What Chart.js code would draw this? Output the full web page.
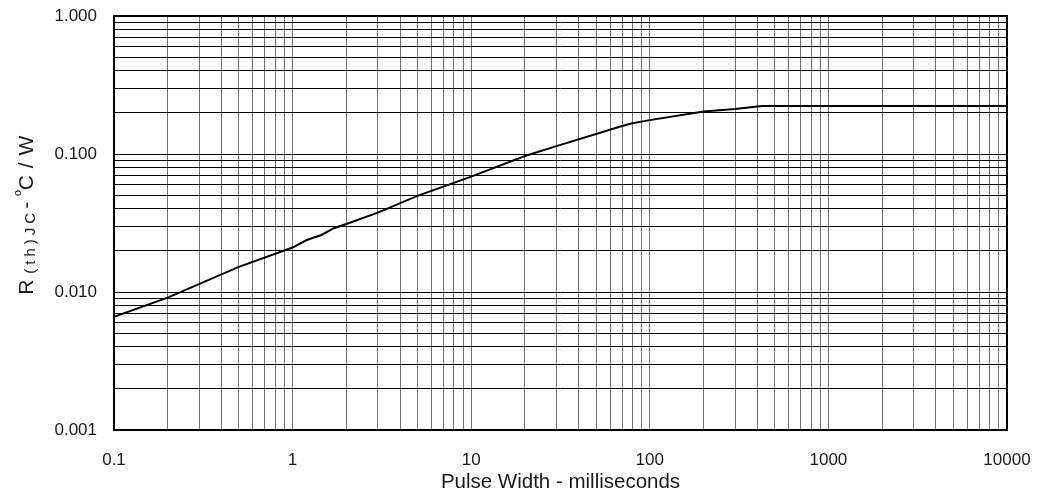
<!DOCTYPE html>
<html>
<head>
<meta charset="utf-8">
<title>Transient Thermal Impedance</title>
<script src="https://cdn.jsdelivr.net/npm/chart.js@4"></script>
<style>
  html, body { margin: 0; padding: 0; background: #fff; }
  #wrap { width: 1042px; height: 502px; }
</style>
</head>
<body>
<div id="wrap"><canvas id="zthChart" width="1042" height="502"></canvas></div>
<script>
// pulse width (ms) and thermal resistance (degC/W)
const pulseWidth = [0.1, 0.2, 0.5, 1, 1.2, 1.45, 1.7, 2, 3, 5, 10, 20, 30, 50, 70, 80, 100, 200, 300, 424, 10000];
const rthJC = [0.0066, 0.0091, 0.0152, 0.021, 0.0238, 0.0259, 0.029, 0.0311, 0.0376, 0.0497, 0.0686, 0.0967, 0.114, 0.1395, 0.1596, 0.167, 0.176, 0.203, 0.212, 0.223, 0.223];

const xDecades = [0.1, 1, 10, 100, 1000, 10000];
const xTickLabels = ["0.1", "1", "10", "100", "1000", "10000"];
const yDecades = [0.001, 0.01, 0.1, 1];
const yTickLabels = ["0.001", "0.010", "0.100", "1.000"];

const FONT = "'Liberation Sans', Arial, sans-serif";

// 1..9 in every decade, for the grid
function logGrid(decades) {
  const out = [];
  for (let i = 0; i < decades.length - 1; i++) {
    for (let s = 1; s <= 9; s++) out.push(+(decades[i] * s).toPrecision(3));
  }
  out.push(decades[decades.length - 1]);
  return out;
}

function labelFor(decades, labels, v) {
  const i = decades.findIndex(d => Math.abs(d - v) / d < 1e-6);
  return i >= 0 ? labels[i] : "";
}

// frame round the plot + the y title with its subscript
const framePlugin = {
  id: "frame",
  afterDraw(chart) {
    const { ctx, chartArea: a } = chart;
    ctx.save();
    ctx.strokeStyle = "#000";
    ctx.lineWidth = 2;
    ctx.strokeRect(a.left, a.top, a.right - a.left, a.bottom - a.top);
    ctx.restore();

    // y title, rotated
    const parts = [
      { t: "R", size: 21, dy: 0, sp: 6 },
      { t: "(th)JC", size: 15, dy: 2, sp: 4 },
      { t: "- ", size: 21, dy: 0, sp: 0 },
      { t: "º", size: 16, dy: -7, sp: 0 },
      { t: "C / W", size: 21, dy: 0, sp: 0.5 }
    ];
    ctx.save();
    let total = 0;
    parts.forEach(p => {
      ctx.font = p.size + "px " + FONT;
      p.w = 0;
      for (const ch of p.t) p.w += ctx.measureText(ch).width + p.sp;
      total += p.w;
    });
    ctx.translate(33, 215);
    ctx.rotate(-Math.PI / 2);
    ctx.fillStyle = "#1a1a1a";
    ctx.textBaseline = "alphabetic";
    let x = -total / 2;
    parts.forEach(p => {
      ctx.font = p.size + "px " + FONT;
      for (const ch of p.t) {
        ctx.fillText(ch, x, p.dy);
        x += ctx.measureText(ch).width + p.sp;
      }
    });
    ctx.restore();
  }
};

new Chart(document.getElementById("zthChart"), {
  type: "line",
  data: {
    datasets: [{
      data: pulseWidth.map((x, i) => ({ x: x, y: rthJC[i] })),
      borderColor: "#000",
      borderWidth: 2,
      pointRadius: 0,
      tension: 0,
      fill: false
    }]
  },
  options: {
    responsive: false,
    animation: false,
    layout: { padding: { left: 0, right: 35, top: 16, bottom: 0 } },
    plugins: {
      legend: { display: false },
      tooltip: { enabled: false }
    },
    scales: {
      x: {
        type: "logarithmic",
        min: 0.1,
        max: 10000,
        afterBuildTicks: s => { s.ticks = logGrid(xDecades).map(v => ({ value: v })); },
        afterFit: s => { s.height = 72; s.paddingLeft = 0; s.paddingRight = 0; },
        grid: { color: "#777", lineWidth: 1, drawTicks: false },
        border: { display: false },
        ticks: {
          autoSkip: false,
          maxRotation: 0,
          padding: 20,
          color: "#1a1a1a",
          font: { family: FONT, size: 17 },
          callback: v => labelFor(xDecades, xTickLabels, v)
        },
        title: {
          display: true,
          text: "Pulse Width - milliseconds",
          color: "#1a1a1a",
          font: { family: FONT, size: 20.5 },
          padding: { top: 0, bottom: 7 }
        }
      },
      y: {
        type: "logarithmic",
        min: 0.001,
        max: 1,
        afterBuildTicks: s => { s.ticks = logGrid(yDecades).map(v => ({ value: v })); },
        afterFit: s => { s.width = 114; s.paddingTop = 0; s.paddingBottom = 0; },
        grid: { color: "#000", lineWidth: 1, drawTicks: false },
        border: { display: false },
        ticks: {
          autoSkip: false,
          padding: 17,
          color: "#1a1a1a",
          font: { family: FONT, size: 17 },
          callback: v => labelFor(yDecades, yTickLabels, v)
        }
      }
    }
  },
  plugins: [framePlugin]
});
</script>
</body>
</html>
